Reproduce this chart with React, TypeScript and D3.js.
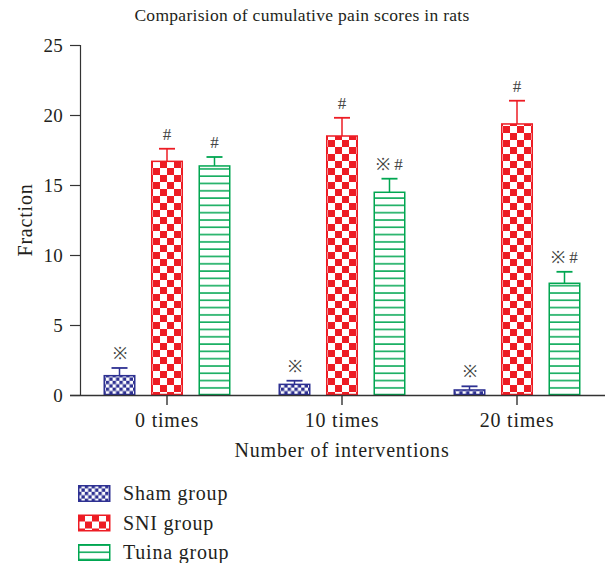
import * as d3 from "d3";
import { useEffect, useRef } from "react";

const categories = ["0 times", "10 times", "20 times"];
const groups = ["Sham group", "SNI group", "Tuina group"];
const means = [
  [1.38, 16.69, 16.36],
  [0.76, 18.5, 14.48],
  [0.36, 19.36, 7.98],
];
const errs = [
  [0.55, 0.9, 0.64],
  [0.26, 1.3, 0.97],
  [0.26, 1.66, 0.82],
];
const marks = [
  ["※", "#", "#"],
  ["※", "#", "※\u00a0#"],
  ["※", "#", "※\u00a0#"],
];
const yTicks = [0, 5, 10, 15, 20, 25];

const colors = ["#2e3192", "#ed1c24", "#00a651"];
const fills = ["url(#sham)", "url(#sni)", "url(#tuina)"];
const font = "'Liberation Serif', 'DejaVu Serif', serif";
const ink = "#231f20";

export default function App() {
  const ref = useRef(null);

  useEffect(() => {
    const svg = d3.select(ref.current);
    svg.selectAll("*").remove();

    const left = 80;
    const top = 45;
    const bottom = 395;

    const y = d3.scaleLinear().domain([0, 25]).range([bottom, top]);
    const x = d3.scaleBand().domain(categories).range([79.5, 604.5]).padding(0);
    const xb = d3.scaleBand().domain(groups).range([-63.5, 63.5]).paddingInner(0.326).paddingOuter(0);

    const defs = svg.append("defs");
    const sham = defs.append("pattern").attr("id", "sham").attr("patternUnits", "userSpaceOnUse")
      .attr("width", 6.8).attr("height", 6.8);
    sham.append("rect").attr("width", 6.8).attr("height", 6.8).attr("fill", "#fff");
    sham.append("rect").attr("width", 3.4).attr("height", 3.4).attr("fill", colors[0]);
    sham.append("rect").attr("x", 3.4).attr("y", 3.4).attr("width", 3.4).attr("height", 3.4).attr("fill", colors[0]);

    const sni = defs.append("pattern").attr("id", "sni").attr("patternUnits", "userSpaceOnUse")
      .attr("width", 14).attr("height", 14);
    sni.append("rect").attr("width", 14).attr("height", 14).attr("fill", "#fff");
    sni.append("rect").attr("width", 7).attr("height", 7).attr("fill", colors[1]);
    sni.append("rect").attr("x", 7).attr("y", 7).attr("width", 7).attr("height", 7).attr("fill", colors[1]);

    const tuina = defs.append("pattern").attr("id", "tuina").attr("patternUnits", "userSpaceOnUse")
      .attr("width", 10).attr("height", 7.3);
    tuina.append("rect").attr("width", 10).attr("height", 7.3).attr("fill", "#fff");
    tuina.append("line").attr("x1", 0).attr("x2", 10).attr("y1", 1).attr("y2", 1)
      .attr("stroke", colors[2]).attr("stroke-width", 1.5);

    svg.append("text")
      .attr("x", 302).attr("y", 21)
      .attr("text-anchor", "middle")
      .attr("font-family", font).attr("font-size", 17.5).attr("letter-spacing", 0.3).attr("fill", ink)
      .text("Comparision of cumulative pain scores in rats");

    // y axis
    const yAxis = svg.append("g").attr("transform", `translate(${left},0)`)
      .call(d3.axisLeft(y).tickValues(yTicks).tickSize(10).tickPadding(7));
    yAxis.select(".domain").attr("stroke", "#333").attr("stroke-width", 1.2);
    yAxis.selectAll("line").attr("stroke", "#333").attr("stroke-width", 1.2);
    yAxis.selectAll("text").attr("font-family", font).attr("font-size", 19)
      .attr("letter-spacing", 0.3).attr("fill", ink);

    svg.append("text")
      .attr("transform", `translate(32,${(top + bottom) / 2}) rotate(-90)`)
      .attr("text-anchor", "middle")
      .attr("font-family", font).attr("font-size", 20).attr("letter-spacing", 0.8).attr("fill", ink)
      .text("Fraction");

    // bars
    categories.forEach((c, ci) => {
      const g = svg.append("g").attr("transform", `translate(${x(c) + x.bandwidth() / 2},0)`);
      groups.forEach((gr, gi) => {
        const bx = xb(gr);
        const bw = xb.bandwidth();
        const v = means[ci][gi];
        const e = errs[ci][gi];
        const cx = bx + bw / 2;
        g.append("line")
          .attr("x1", cx).attr("x2", cx).attr("y1", y(v)).attr("y2", y(v + e))
          .attr("stroke", colors[gi]).attr("stroke-width", 1.5);
        g.append("line")
          .attr("x1", cx - 8).attr("x2", cx + 8).attr("y1", y(v + e)).attr("y2", y(v + e))
          .attr("stroke", colors[gi]).attr("stroke-width", 1.8);
        g.append("rect")
          .attr("x", bx + 0.75).attr("width", bw - 1.5)
          .attr("y", y(v)).attr("height", y(0) - y(v) - 0.5)
          .attr("fill", fills[gi]).attr("stroke", colors[gi]).attr("stroke-width", 1.5);
        g.append("text")
          .attr("x", cx).attr("y", y(v + e) - 9)
          .attr("text-anchor", "middle")
          .attr("font-family", font).attr("font-size", 17).attr("fill", "#444")
          .text(marks[ci][gi]);
      });
    });

    // x axis
    const xAxis = svg.append("g").attr("transform", `translate(0,${bottom})`)
      .call(d3.axisBottom(x).tickSize(10).tickPadding(8).tickSizeOuter(0));
    xAxis.select(".domain").attr("d", "M70,0.5H605").attr("stroke", "#333").attr("stroke-width", 1.4);
    xAxis.selectAll("line").attr("stroke", "#333").attr("stroke-width", 1.4);
    xAxis.selectAll("text").attr("font-family", font).attr("font-size", 20)
      .attr("letter-spacing", 0.8).attr("fill", ink);

    svg.append("text")
      .attr("x", 342).attr("y", 457)
      .attr("text-anchor", "middle")
      .attr("font-family", font).attr("font-size", 20).attr("letter-spacing", 0.8).attr("fill", ink)
      .text("Number of interventions");

    // legend
    const legend = svg.append("g").attr("transform", "translate(78,485)");
    groups.forEach((gr, gi) => {
      const row = legend.append("g").attr("transform", `translate(0,${gi * 29.5})`);
      row.append("rect").attr("x", 0.75).attr("y", 0.75).attr("width", 31).attr("height", 15.5)
        .attr("fill", fills[gi]).attr("stroke", colors[gi]).attr("stroke-width", 1.5);
      row.append("text").attr("x", 45).attr("y", 15)
        .attr("font-family", font).attr("font-size", 20).attr("letter-spacing", 0.8).attr("fill", ink)
        .text(gr);
    });
  }, []);

  return (
    <svg
      ref={ref}
      width={605}
      height={563}
      style={{ position: "absolute", left: 0, top: 0, background: "#fff" }}
    />
  );
}
